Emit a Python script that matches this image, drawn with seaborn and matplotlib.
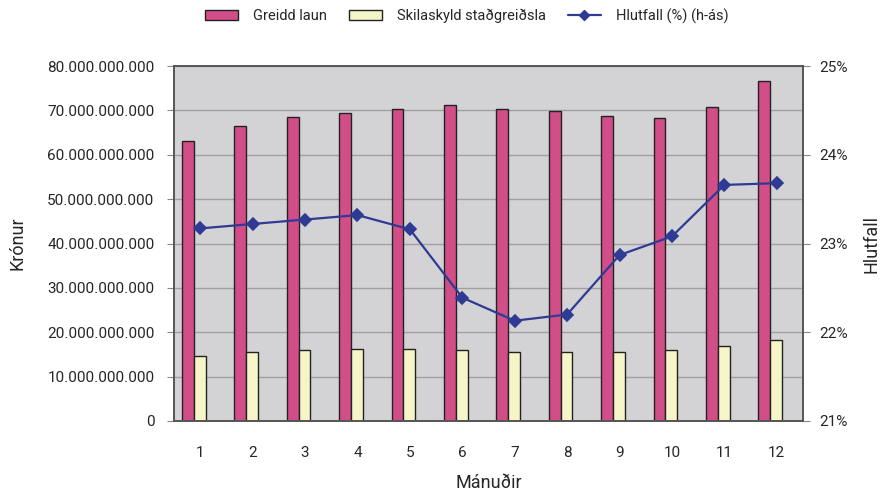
import pandas as pd
import matplotlib.pyplot as plt
import seaborn as sns
from matplotlib.ticker import FuncFormatter, FixedLocator
from matplotlib.patches import Patch
from matplotlib.lines import Line2D
from matplotlib.transforms import ScaledTranslation

sns.set_style("white")
plt.rcParams['font.family'] = ['Roboto', 'DejaVu Sans']

months = [1, 2, 3, 4, 5, 6, 7, 8, 9, 10, 11, 12]
greidd_laun = [63.2e9, 66.5e9, 68.4e9, 69.3e9, 70.4e9, 71.3e9,
               70.4e9, 69.9e9, 68.7e9, 68.3e9, 70.7e9, 76.7e9]
stadgreidsla = [14.7e9, 15.6e9, 15.95e9, 16.25e9, 16.25e9, 15.95e9,
                15.6e9, 15.6e9, 15.6e9, 15.95e9, 16.9e9, 18.35e9]
hlutfall = [23.17, 23.22, 23.27, 23.32, 23.16, 22.39,
            22.13, 22.20, 22.87, 23.08, 23.66, 23.68]

df = pd.DataFrame({
    'Mánuður': months * 2,
    'Krónur': greidd_laun + stadgreidsla,
    'Flokkur': ['Greidd laun'] * 12 + ['Skilaskyld staðgreiðsla'] * 12,
})
df_line = pd.DataFrame({'Mánuður': months, 'Hlutfall': hlutfall})

pink = '#D24E88'
yellow = '#F5F5C8'
navy = '#2E3A94'

fig = plt.figure(figsize=(8.85, 4.95), dpi=100)
ax = fig.add_axes([174 / 885, 1 - 421 / 495, 629 / 885, 355 / 495])
ax.set_facecolor('#D3D3D6')

sns.barplot(data=df, x='Mánuður', y='Krónur', hue='Flokkur',
            palette=[pink, yellow], saturation=1, width=0.45, edgecolor='#222222',
            linewidth=1.0, ax=ax, legend=False)
# the clusters sit a little left of the category centre, as in the original
shift = ScaledTranslation(-6.5 / 100, 0, fig.dpi_scale_trans)
for p in ax.patches:
    p.set_transform(ax.transData + shift)

ax.set_ylim(0, 80e9)
ax.set_yticks(range(0, 80000000001, 10000000000))
ax.yaxis.set_major_formatter(FuncFormatter(lambda v, p: f"{int(v):,}".replace(',', '.')))
ax.grid(axis='y', color='#A0A0A0', linewidth=1.0)
ax.set_axisbelow(True)
ax.set_xlim(-0.5, 11.5)
ax.xaxis.set_minor_locator(FixedLocator([i - 0.5 for i in range(13)]))
ax.tick_params(axis='x', which='major', length=0, labelsize=11, pad=18)
ax.tick_params(axis='x', which='minor', length=5, color='#888888', direction='out')
ax.tick_params(axis='y', length=5, color='#888888', direction='out', labelsize=11, left=True, pad=9)
for s in ax.spines.values():
    s.set_color('#555555')
    s.set_linewidth(1.2)
ax.set_xlabel('Mánuðir', fontsize=13, labelpad=10)
ax.set_ylabel('Krónur', fontsize=13)
ax.yaxis.set_label_coords(-0.2345, 0.5)

ax2 = ax.twinx()
sns.pointplot(data=df_line, x='Mánuður', y='Hlutfall', color=navy,
              markers='D', markersize=6, linewidth=1.6, ax=ax2)
ax2.set_ylim(21, 25)
ax2.set_yticks([21, 22, 23, 24, 25])
ax2.yaxis.set_major_formatter(FuncFormatter(lambda v, p: f"{int(v)}%"))
ax2.tick_params(axis='y', length=5, color='#888888', direction='out', labelsize=11, right=True, pad=7)
ax2.set_ylabel('Hlutfall', fontsize=13)
ax2.yaxis.set_label_coords(1.094, 0.5)
ax2.set_xlim(-0.5, 11.5)
for s in ax2.spines.values():
    s.set_color('#555555')
    s.set_linewidth(1.2)

handles = [Patch(facecolor=pink, edgecolor='#222222', label='Greidd laun'),
           Patch(facecolor=yellow, edgecolor='#222222', label='Skilaskyld staðgreiðsla'),
           Line2D([0], [0], color=navy, marker='D', markersize=5, linewidth=1.6,
                  label='Hlutfall (%) (h-ás)')]
fig.legend(handles=handles, loc='upper center', bbox_to_anchor=(0.527, 1.01),
           ncol=3, frameon=False, fontsize=10.5, handlelength=2.3, handleheight=0.6,
           handletextpad=1.0, columnspacing=1.5)

fig.savefig('out.png', dpi=100)
